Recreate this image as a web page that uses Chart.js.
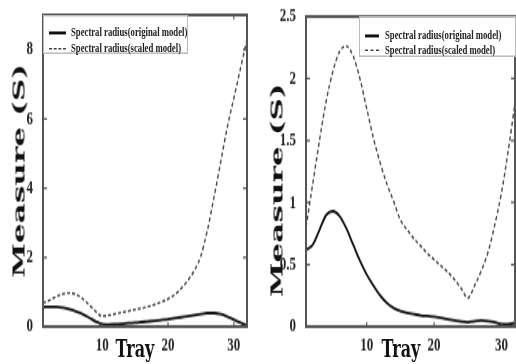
<!DOCTYPE html>
<html>
<head>
<meta charset="utf-8">
<script src="https://cdn.jsdelivr.net/npm/chart.js@4.4.1/dist/chart.umd.min.js"></script>
<style>
  html, body { margin: 0; padding: 0; background: #fff; overflow: hidden; }
  #wrap { position: absolute; left: 0; top: 0; width: 516px; height: 243px;
          transform: scaleY(1.49794); transform-origin: 0 0; }
  canvas { position: absolute; top: 0; }
  .ytitle { position: absolute; font: bold 16px "DejaVu Serif"; color: #111; white-space: nowrap;
            transform: translate(-50%, -50%) rotate(-90deg) scaleX(1.3); }
  .xtitle { position: absolute; font: bold 16px "DejaVu Serif"; color: #111; white-space: nowrap;
            transform: translateX(-50%); line-height: 1; }
  .legend { position: absolute; border: 1px solid #bbb; background: #fff; box-sizing: border-box; }
  .entry { position: absolute; left: 0; height: 10px; white-space: nowrap;
           font: bold 8.7px "Liberation Serif"; color: #222; line-height: 10px; }
  .sample { position: absolute; top: 5px; height: 0; }
</style>
</head>
<body>
<div id="wrap">
  <canvas id="c1" width="258" height="243" style="left:0"></canvas>
  <canvas id="c2" width="258" height="243" style="left:258px"></canvas>

  <div class="ytitle" style="left:19px; top:114px;">Measure (S)</div>
  <div class="ytitle" style="left:277px; top:127px;">Measure (S)</div>
  <div class="xtitle" style="left:135px; top:225px;">Tray</div>
  <div class="xtitle" style="left:401px; top:225px;">Tray</div>

  <div class="legend" style="left:43px; top:10px; width:145px; height:26px;">
    <div class="entry" style="top:5px;"><div class="sample" style="left:5px;width:17px;border-top:2px solid #111;"></div><span style="position:absolute;left:27px;">Spectral radius(original model)</span></div>
    <div class="entry" style="top:16px;"><div class="sample" style="left:5px;width:17px;border-top:1.5px dashed #444;"></div><span style="position:absolute;left:27px;">Spectral radius(scaled model)</span></div>
  </div>
  <div class="legend" style="left:359px; top:11px; width:157px; height:27px;">
    <div class="entry" style="top:6px;"><div class="sample" style="left:5px;width:14px;border-top:2px solid #111;"></div><span style="position:absolute;left:25px;">Spectral radius(original model)</span></div>
    <div class="entry" style="top:16px;"><div class="sample" style="left:5px;width:14px;border-top:1.5px dashed #444;"></div><span style="position:absolute;left:25px;">Spectral radius(scaled model)</span></div>
  </div>
</div>

<script>
// ---- data ----
const trays = [1,2,3,4,5,6,7,8,9,10,11,12,13,14,15,16,17,18,19,20,21,22,23,24,25,26,27,28,29,30,31,32];

const leftOriginal = [0.56,0.57,0.57,0.55,0.50,0.44,0.36,0.26,0.15,0.07,0.06,0.07,0.08,0.10,0.11,0.13,0.15,0.17,0.19,0.21,0.24,0.27,0.30,0.33,0.36,0.39,0.39,0.36,0.29,0.20,0.11,0.04];
const leftScaled   = [0.68,0.76,0.86,0.94,0.97,0.93,0.81,0.63,0.44,0.30,0.33,0.37,0.41,0.45,0.49,0.53,0.58,0.64,0.71,0.80,0.92,1.10,1.33,1.62,2.05,2.80,3.75,4.75,5.75,6.60,7.45,8.30];

const rightOriginal = [0.62,0.66,0.78,0.90,0.93,0.89,0.79,0.66,0.53,0.42,0.33,0.25,0.19,0.15,0.125,0.11,0.10,0.09,0.085,0.08,0.07,0.06,0.05,0.04,0.035,0.045,0.05,0.045,0.035,0.02,0.02,0.03];
const rightScaled   = [0.80,1.15,1.50,1.82,2.06,2.22,2.26,2.18,2.00,1.76,1.52,1.32,1.15,1.01,0.86,0.78,0.71,0.65,0.59,0.54,0.49,0.44,0.38,0.31,0.23,0.33,0.45,0.60,0.82,1.08,1.42,1.80];

const xTickValues = [10, 20, 30];
const leftYTicks = [0, 2, 4, 6, 8];
const rightYTicks = [0, 0.5, 1, 1.5, 2, 2.5];

const seriesNames = ['Spectral radius(original model)', 'Spectral radius(scaled model)'];

// ---- frame + inward tick marks (MATLAB style) ----
const framePlugin = {
  id: 'frame',
  afterDraw(chart) {
    const { ctx, chartArea: a, scales } = chart;
    ctx.save();
    ctx.strokeStyle = '#555';
    ctx.lineWidth = 2;
    ctx.strokeRect(a.left, a.top, a.right - a.left, a.bottom - a.top);
    ctx.lineWidth = 1.2;
    ctx.beginPath();
    scales.x.ticks.forEach(t => {
      const px = scales.x.getPixelForValue(t.value);
      ctx.moveTo(px, a.bottom); ctx.lineTo(px, a.bottom - 3);
      ctx.moveTo(px, a.top); ctx.lineTo(px, a.top + 3);
    });
    scales.y.ticks.forEach(t => {
      const py = scales.y.getPixelForValue(t.value);
      ctx.moveTo(a.left, py); ctx.lineTo(a.left + 4, py);
      ctx.moveTo(a.right, py); ctx.lineTo(a.right - 4, py);
    });
    ctx.stroke();
    ctx.restore();
  }
};

function makeChart(id, orig, scaled, yMax, yTicks, yWidth, padRight, padTop) {
  const tickFont = { family: 'Liberation Serif', size: 13, weight: 'bold' };
  return new Chart(document.getElementById(id), {
    type: 'line',
    data: {
      datasets: [
        { label: seriesNames[0], data: trays.map((t, i) => ({ x: t, y: orig[i] })),
          borderColor: '#111', borderWidth: 1.8, pointRadius: 0, cubicInterpolationMode: 'monotone', fill: false },
        { label: seriesNames[1], data: trays.map((t, i) => ({ x: t, y: scaled[i] })),
          borderColor: '#444', borderWidth: 1.4, borderDash: [3, 2], pointRadius: 0, cubicInterpolationMode: 'monotone', fill: false }
      ]
    },
    options: {
      responsive: false,
      animation: false,
      devicePixelRatio: 1,
      layout: { padding: { left: 0, right: padRight, top: padTop, bottom: 0 } },
      plugins: { legend: { display: false }, tooltip: { enabled: false } },
      scales: {
        x: {
          type: 'linear', min: 1, max: 32,
          afterBuildTicks: s => { s.ticks = xTickValues.map(v => ({ value: v })); },
          afterFit: s => { s.height = 25; },
          grid: { display: false },
          border: { display: false },
          ticks: { font: tickFont, color: '#222', padding: -3, maxRotation: 0, autoSkip: false,
                   callback: v => String(v) }
        },
        y: {
          type: 'linear', min: 0, max: yMax,
          afterBuildTicks: s => { s.ticks = yTicks.map(v => ({ value: v })); },
          afterFit: s => { s.width = yWidth; },
          grid: { display: false },
          border: { display: false },
          ticks: { font: tickFont, color: '#222', padding: 2, autoSkip: false,
                   callback: v => String(v) }
        }
      }
    },
    plugins: [framePlugin]
  });
}

makeChart('c1', leftOriginal, leftScaled, 9, leftYTicks, 43, 11, 10);
makeChart('c2', rightOriginal, rightScaled, 2.5, rightYTicks, 48, 1, 11);
</script>
</body>
</html>
